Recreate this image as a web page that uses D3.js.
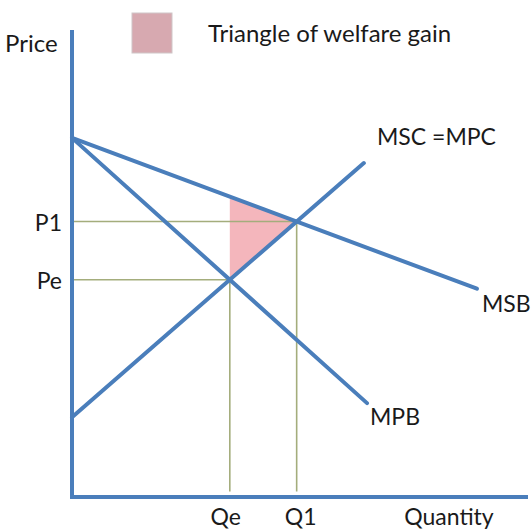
<!DOCTYPE html>
<html><head><meta charset="utf-8">
<script src="https://cdn.jsdelivr.net/npm/d3@7"></script>
<style>html,body{margin:0;padding:0;background:#fff;}</style>
</head><body>
<script>
// Data (abstract units: quantity 0..100, price 0..100)
const curveNames = ["MSB", "MPB", "MSC =MPC"];
const curveStart = [[0, 76.9], [0, 76.9], [0, 17.1]];
const curveEnd = [[88.8, 44.6], [64.7, 20.1], [64.0, 71.5]];
const priceLabels = ["P1", "Pe"];
const quantityLabels = ["Qe", "Q1"];
const legendLabel = "Triangle of welfare gain";

const W = 531, H = 531;
const x = d3.scaleLinear().domain([0, 100]).range([72, 528]);
const y = d3.scaleLinear().domain([0, 100]).range([497, 30]);
const blue = "#4a7ebb", guide = "#a4ad7c", font = "Lato, 'Open Sans', sans-serif";

const svg = d3.select("body").append("svg").attr("width", W).attr("height", H);

function intersect(a1, a2, b1, b2) {
  const d = (a1[0]-a2[0])*(b1[1]-b2[1]) - (a1[1]-a2[1])*(b1[0]-b2[0]);
  const t = ((a1[0]-b1[0])*(b1[1]-b2[1]) - (a1[1]-b1[1])*(b1[0]-b2[0])) / d;
  return [a1[0] + t*(a2[0]-a1[0]), a1[1] + t*(a2[1]-a1[1])];
}
const eqE = intersect(curveStart[1], curveEnd[1], curveStart[2], curveEnd[2]); // MPB x MSC
const eq1 = intersect(curveStart[0], curveEnd[0], curveStart[2], curveEnd[2]); // MSB x MSC
const msbAtQe = intersect(curveStart[0], curveEnd[0], [eqE[0], 0], [eqE[0], 100]);

// welfare triangle
svg.append("path")
  .attr("d", d3.line().x(d => x(d[0])).y(d => y(d[1]))([msbAtQe, eq1, eqE]) + "Z")
  .attr("fill", "#f4b6bc");

// guide lines
const eqs = [eq1, eqE];
svg.selectAll("line.h").data(eqs).join("line")
  .attr("x1", x(0)).attr("x2", d => x(d[0]))
  .attr("y1", d => y(d[1])).attr("y2", d => y(d[1]))
  .attr("stroke", guide).attr("stroke-width", 1.6);
svg.selectAll("line.v").data(eqs).join("line")
  .attr("x1", d => x(d[0])).attr("x2", d => x(d[0]))
  .attr("y1", d => y(d[1])).attr("y2", y(1.2))
  .attr("stroke", guide).attr("stroke-width", 1.6);

// curves
svg.selectAll("line.c").data(curveNames).join("line")
  .attr("x1", (d, i) => x(curveStart[i][0])).attr("y1", (d, i) => y(curveStart[i][1]))
  .attr("x2", (d, i) => x(curveEnd[i][0])).attr("y2", (d, i) => y(curveEnd[i][1]))
  .attr("stroke", blue).attr("stroke-width", 4).attr("stroke-linecap", "round");

// axes
svg.append("path")
  .attr("d", `M${x(0)},${y(100)}L${x(0)},${y(0)}L${x(100)},${y(0)}`)
  .attr("fill", "none").attr("stroke", blue).attr("stroke-width", 4);

// text
const txt = (s, tx, ty, anchor = "start", fs = 23) => svg.append("text").text(s)
  .attr("x", tx).attr("y", ty).attr("text-anchor", anchor)
  .attr("font-family", font).attr("font-size", fs).attr("fill", "#1a1a1a");

txt("Price", 5, 52, "start", 24);
txt(priceLabels[0], 62, y(eq1[1]) + 9, "end");
txt(priceLabels[1], 62, y(eqE[1]) + 9, "end");
txt(quantityLabels[0], x(eqE[0]) - 4, 525, "middle");
txt(quantityLabels[1], x(eq1[0]) + 4, 525, "middle");
txt("Quantity", 449, 525, "middle", 23);
txt(curveNames[2], 377, 145);
txt(curveNames[0], 482, 312);
txt(curveNames[1], 370, 425);

// legend
svg.append("rect").attr("x", 132).attr("y", 13).attr("width", 40).attr("height", 40)
  .attr("fill", "#d7a9b0").attr("stroke", "#cfc6c8").attr("stroke-width", 1);
txt(legendLabel, 208, 42, "start", 24);
</script>
</body></html>
